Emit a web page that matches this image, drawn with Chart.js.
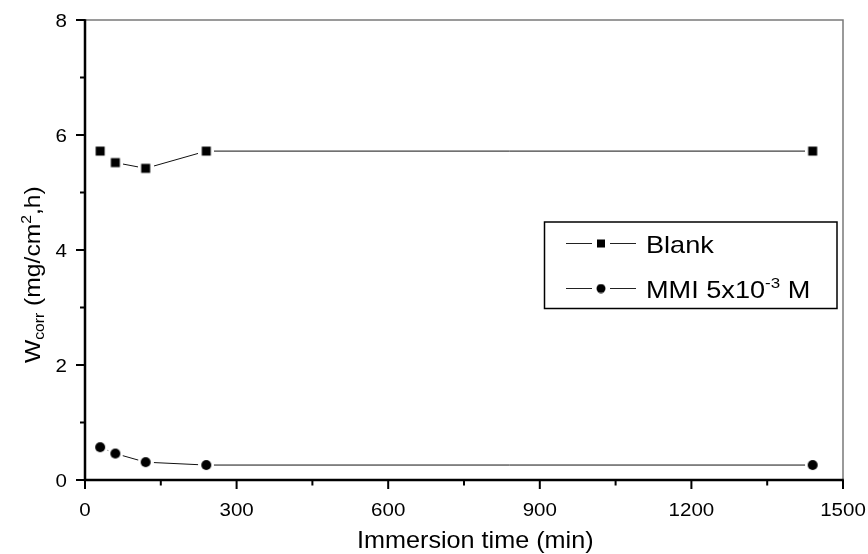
<!DOCTYPE html>
<html>
<head>
<meta charset="utf-8">
<script src="https://cdn.jsdelivr.net/npm/chart.js@4/dist/chart.umd.min.js"></script>
<style>
  html, body { margin: 0; padding: 0; background: #fff; }
  #wrap { width: 868px; height: 554px; }
</style>
</head>
<body>
<div id="wrap"><canvas id="c" width="868" height="554"></canvas></div>
<script>
// Corrosion rate vs immersion time
const immersionTimes = [30, 60, 120, 240, 1440];
const blankRate = [5.72, 5.52, 5.42, 5.72, 5.72];
const mmiRate = [0.57, 0.46, 0.31, 0.26, 0.26];

const xMajorTicks = [0, 300, 600, 900, 1200, 1500];
const xMinorTicks = [150, 450, 750, 1050, 1350];
const yMajorTicks = [0, 2, 4, 6, 8];
const yMinorTicks = [1, 3, 5, 7];

const seriesNames = ['Blank', 'MMI 5x10\u207B\u00B3 M'];
const legendParts = [
  [{ t: 'Blank' }],
  [{ t: 'MMI 5x10' }, { t: '-3', sup: true }, { t: ' M' }]
];
const xTitleParts = [{ t: 'Immersion time (min)' }];
const yTitleParts = [{ t: 'W' }, { t: 'corr', sub: true }, { t: ' (mg/cm' }, { t: '2', sup: true }, { t: ',h)' }];

const FONT = '"Liberation Sans", Arial, Helvetica, sans-serif';

// Marker images with a white halo so the connecting line stops short of each symbol
function markerSquare(half, halo) {
  const s = halo * 2;
  const cv = document.createElement('canvas');
  cv.width = s; cv.height = s;
  const g = cv.getContext('2d');
  g.fillStyle = '#fff';
  g.fillRect(0, 0, s, s);
  g.fillStyle = '#000';
  g.fillRect(halo - half, halo - half, half * 2, half * 2);
  return cv;
}
function markerCircle(r, halo) {
  const s = halo * 2;
  const cv = document.createElement('canvas');
  cv.width = s; cv.height = s;
  const g = cv.getContext('2d');
  g.fillStyle = '#fff';
  g.beginPath(); g.arc(halo, halo, halo, 0, Math.PI * 2); g.fill();
  g.fillStyle = '#000';
  g.beginPath(); g.arc(halo, halo, r, 0, Math.PI * 2); g.fill();
  return cv;
}
const squareMark = markerSquare(4.5, 8);
const circleMark = markerCircle(5, 8);
const squareMarkLegend = markerSquare(4, 5);
const circleMarkLegend = markerCircle(4.5, 5);

// Text with sub/superscripts and a slight horizontal stretch
function drawRich(ctx, parts, x, y, size, sx) {
  let cx = x;
  for (const p of parts) {
    const small = p.sup || p.sub;
    const fs = small ? Math.round(size * 0.64) : size;
    ctx.font = fs + 'px ' + FONT;
    const dy = p.sup ? -size * 0.42 : (p.sub ? size * 0.2 : 0);
    ctx.save();
    ctx.translate(cx, y + dy);
    ctx.scale(sx, 1);
    ctx.fillText(p.t, 0, 0);
    ctx.restore();
    cx += ctx.measureText(p.t).width * sx;
  }
  return cx - x;
}
function richWidth(ctx, parts, size, sx) {
  let w = 0;
  for (const p of parts) {
    const fs = (p.sup || p.sub) ? Math.round(size * 0.64) : size;
    ctx.font = fs + 'px ' + FONT;
    w += ctx.measureText(p.t).width * sx;
  }
  return w;
}

const framePlugin = {
  id: 'frame',
  afterDatasetsDraw(chart) {
    const ctx = chart.ctx;
    const a = chart.chartArea;
    const xs = chart.scales.x, ys = chart.scales.y;
    ctx.save();
    ctx.fillStyle = '#000';
    ctx.textBaseline = 'alphabetic';

    // top and right frame
    ctx.strokeStyle = '#7a7a7a';
    ctx.lineWidth = 1.5;
    ctx.beginPath();
    ctx.moveTo(a.left, a.top); ctx.lineTo(a.right, a.top); ctx.lineTo(a.right, a.bottom);
    ctx.stroke();

    // left and bottom axes
    ctx.strokeStyle = '#000';
    ctx.lineWidth = 2.5;
    ctx.beginPath();
    ctx.moveTo(a.left, a.top - 0.75); ctx.lineTo(a.left, a.bottom); ctx.lineTo(a.right + 0.75, a.bottom);
    ctx.stroke();

    // tick marks
    ctx.lineWidth = 2;
    ctx.beginPath();
    xMajorTicks.forEach(v => { const px = xs.getPixelForValue(v); ctx.moveTo(px, a.bottom); ctx.lineTo(px, a.bottom + 9); });
    xMinorTicks.forEach(v => { const px = xs.getPixelForValue(v); ctx.moveTo(px, a.bottom); ctx.lineTo(px, a.bottom + 5.5); });
    yMajorTicks.forEach(v => { const py = ys.getPixelForValue(v); ctx.moveTo(a.left, py); ctx.lineTo(a.left - 9, py); });
    yMinorTicks.forEach(v => { const py = ys.getPixelForValue(v); ctx.moveTo(a.left, py); ctx.lineTo(a.left - 5, py); });
    ctx.stroke();

    // tick labels
    const tsize = 19, tsx = 1.08;
    xMajorTicks.forEach(v => {
      const px = xs.getPixelForValue(v);
      const parts = [{ t: String(v) }];
      const w = richWidth(ctx, parts, tsize, tsx);
      drawRich(ctx, parts, px - w / 2, a.bottom + 35.5, tsize, tsx);
    });
    yMajorTicks.forEach(v => {
      const py = ys.getPixelForValue(v);
      const parts = [{ t: String(v) }];
      const w = richWidth(ctx, parts, tsize, tsx);
      drawRich(ctx, parts, 67 - w, py + 7, tsize, tsx);
    });

    // axis titles
    drawRich(ctx, xTitleParts, 357, 548, 24, 1.05);
    ctx.save();
    ctx.translate(40, 363);
    ctx.rotate(-Math.PI / 2);
    drawRich(ctx, yTitleParts, 0, 0, 22, 1.12);
    ctx.restore();

    // legend
    ctx.strokeStyle = '#000';
    ctx.lineWidth = 1.5;
    ctx.strokeRect(544.5, 222, 292.5, 86.5);
    const rows = [243.5, 288.5];
    const marks = [squareMarkLegend, circleMarkLegend];
    ctx.lineWidth = 1;
    ctx.strokeStyle = '#222';
    rows.forEach((ry, i) => {
      ctx.beginPath();
      ctx.moveTo(566, ry); ctx.lineTo(592, ry);
      ctx.moveTo(610, ry); ctx.lineTo(636, ry);
      ctx.stroke();
      const m = marks[i];
      ctx.drawImage(m, 601 - m.width / 2, ry - m.height / 2);
    });
    drawRich(ctx, legendParts[0], 646, 253, 24, 1.13);
    drawRich(ctx, legendParts[1], 646, 298, 24, 1.13);
    ctx.restore();
  }
};

const toXY = (ys) => immersionTimes.map((t, i) => ({ x: t, y: ys[i] }));

new Chart(document.getElementById('c'), {
  type: 'line',
  data: {
    datasets: [
      {
        label: seriesNames[0],
        data: toXY(blankRate),
        borderColor: '#111',
        borderWidth: 1,
        pointStyle: squareMark,
        pointRadius: 8,
        pointHoverRadius: 8,
        tension: 0,
        fill: false
      },
      {
        label: seriesNames[1],
        data: toXY(mmiRate),
        borderColor: '#111',
        borderWidth: 1,
        pointStyle: circleMark,
        pointRadius: 8,
        pointHoverRadius: 8,
        tension: 0,
        fill: false
      }
    ]
  },
  options: {
    responsive: false,
    animation: false,
    events: [],
    layout: { padding: { top: 20, right: 25, left: 0, bottom: 0 } },
    plugins: { legend: { display: false }, tooltip: { enabled: false } },
    scales: {
      x: {
        type: 'linear', min: 0, max: 1500,
        ticks: { display: false, stepSize: 300 },
        grid: { display: false },
        border: { display: false },
        afterFit: (s) => { s.height = 74; }
      },
      y: {
        type: 'linear', min: 0, max: 8,
        ticks: { display: false, stepSize: 2 },
        grid: { display: false },
        border: { display: false },
        afterFit: (s) => { s.width = 85; }
      }
    }
  },
  plugins: [framePlugin]
});
</script>
</body>
</html>
